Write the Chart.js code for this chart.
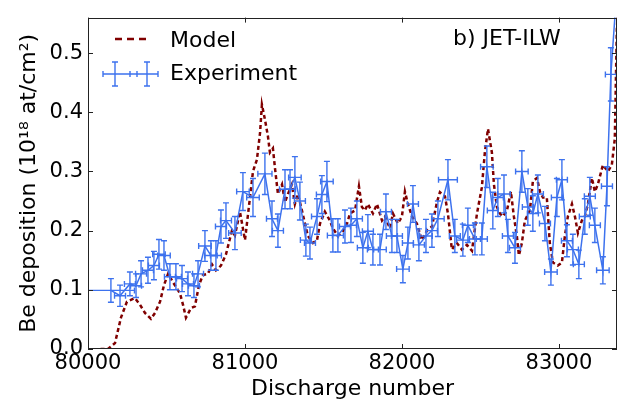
<!DOCTYPE html>
<html><head><meta charset="utf-8">
<script src="https://cdn.jsdelivr.net/npm/chart.js@4.4.0/dist/chart.umd.min.js"></script>
<style>html,body{margin:0;padding:0;background:#fff;} #wrap{width:619px;height:414px;}</style>
</head><body><div id="wrap"><canvas id="c" width="619" height="414"></canvas></div>
<script>
// ---- data ----
const expShot = [80146,80204,80267,80306,80338,80382,80420,80452,80484,80522,80560,80599,80637,80675,80701,80745,80783,80815,80847,80879,80936,80987,81051,81127,81172,81210,81255,81287,81318,81350,81388,81414,81459,81490,81522,81560,81592,81637,81675,81713,81751,81783,81815,81860,81898,81936,81968,82006,82038,82070,82108,82153,82191,82229,82293,82337,82388,82420,82465,82509,82541,82579,82611,82650,82675,82720,82764,82802,82834,82866,82911,82949,82987,83019,83051,83089,83127,83165,83197,83229,83280,83306,83331,83372];
const expValue = [0.099,0.09,0.11,0.107,0.127,0.133,0.141,0.16,0.158,0.122,0.122,0.119,0.11,0.107,0.127,0.174,0.158,0.158,0.207,0.217,0.196,0.266,0.256,0.296,0.22,0.20,0.27,0.27,0.29,0.25,0.184,0.179,0.224,0.261,0.283,0.192,0.192,0.207,0.209,0.22,0.171,0.199,0.168,0.168,0.232,0.191,0.191,0.135,0.179,0.245,0.176,0.191,0.20,0.22,0.286,0.191,0.184,0.209,0.186,0.186,0.308,0.234,0.256,0.262,0.191,0.171,0.30,0.24,0.229,0.262,0.212,0.13,0.256,0.286,0.183,0.168,0.143,0.224,0.258,0.209,0.133,0.275,0.464,0.62];
const expYErr = [0.02,0.018,0.02,0.02,0.022,0.022,0.024,0.025,0.025,0.022,0.022,0.022,0.02,0.02,0.022,0.026,0.025,0.025,0.028,0.03,0.028,0.032,0.032,0.035,0.03,0.028,0.033,0.033,0.035,0.032,0.027,0.027,0.03,0.032,0.034,0.028,0.028,0.028,0.029,0.03,0.026,0.028,0.026,0.026,0.03,0.028,0.028,0.023,0.027,0.031,0.027,0.028,0.028,0.03,0.034,0.028,0.027,0.029,0.027,0.027,0.035,0.031,0.032,0.032,0.028,0.026,0.035,0.031,0.03,0.032,0.029,0.022,0.032,0.034,0.027,0.026,0.024,0.03,0.032,0.029,0.023,0.033,0.045,0.05];
const expXErr = [150,35,35,35,35,35,35,40,40,35,35,35,35,35,35,40,40,35,35,35,40,40,40,45,35,35,35,35,40,35,35,35,35,35,40,35,35,35,35,35,35,35,35,40,35,35,35,40,35,35,35,40,35,40,60,35,40,35,35,35,40,35,35,40,35,35,40,35,35,35,35,40,35,35,35,35,35,35,35,35,40,35,35,35];
const modelShot = [80080,80127,80172,80210,80248,80299,80331,80363,80401,80427,80459,80484,80510,80541,80560,80586,80605,80624,80656,80681,80707,80732,80764,80790,80815,80847,80879,80917,80936,80968,81000,81032,81051,81076,81096,81108,81127,81146,81159,81178,81191,81210,81236,81255,81274,81299,81318,81337,81363,81382,81401,81433,81459,81478,81509,81541,81560,81592,81624,81650,81669,81701,81726,81745,81764,81783,81815,81841,81873,81892,81923,81943,81974,82000,82019,82038,82064,82095,82127,82159,82191,82223,82242,82274,82293,82318,82350,82382,82414,82446,82478,82509,82528,82548,82573,82586,82605,82624,82643,82669,82694,82713,82732,82745,82764,82783,82815,82834,82860,82879,82898,82923,82942,82962,82993,83019,83038,83057,83083,83102,83121,83146,83165,83185,83210,83229,83248,83280,83312,83337,83356,83369,83385];
const modelValue = [0.0,0.0,0.01,0.053,0.08,0.086,0.075,0.061,0.051,0.061,0.08,0.108,0.127,0.113,0.105,0.094,0.075,0.053,0.069,0.072,0.108,0.125,0.127,0.143,0.133,0.141,0.16,0.2,0.192,0.232,0.184,0.256,0.30,0.32,0.365,0.413,0.388,0.36,0.332,0.339,0.306,0.262,0.278,0.248,0.262,0.278,0.245,0.262,0.234,0.212,0.191,0.179,0.184,0.212,0.232,0.217,0.204,0.191,0.199,0.212,0.229,0.234,0.275,0.24,0.234,0.245,0.229,0.245,0.217,0.224,0.204,0.229,0.212,0.224,0.266,0.245,0.224,0.212,0.184,0.2,0.207,0.248,0.265,0.258,0.229,0.168,0.179,0.168,0.176,0.166,0.229,0.273,0.332,0.372,0.332,0.278,0.24,0.229,0.224,0.234,0.266,0.224,0.191,0.158,0.179,0.217,0.234,0.283,0.289,0.266,0.256,0.256,0.179,0.146,0.141,0.146,0.191,0.224,0.245,0.224,0.196,0.217,0.224,0.245,0.289,0.266,0.278,0.311,0.30,0.311,0.355,0.54,0.62];
const xTickValues = [80000,81000,82000,83000];
const yTickValues = [0.0,0.1,0.2,0.3,0.4,0.5];
const xRange = [80000,83370];
const yRange = [0,0.56];
const seriesNames = ['Model','Experiment'];
const panelLabel = 'b) JET-ILW';
const xTitle = 'Discharge number';
const yTitle = 'Be deposition (10\u00b9\u2078 at/cm\u00b2)';

// ---- styles ----
const MODEL_COLOR = '#800000';
const EXP_COLOR = '#3d72ee';
const FONT = 'DejaVu Sans';

const errorBarPlugin = {
  id: 'errorbars',
  afterDatasetsDraw(chart) {
    const {ctx, chartArea: a, scales: {x, y}} = chart;
    ctx.save();
    ctx.beginPath(); ctx.rect(a.left, a.top, a.right - a.left, a.bottom - a.top); ctx.clip();
    ctx.strokeStyle = EXP_COLOR; ctx.lineWidth = 1.4;
    const cap = 3;
    for (let i = 0; i < expShot.length; i++) {
      const px = x.getPixelForValue(expShot[i]), py = y.getPixelForValue(expValue[i]);
      const y1 = y.getPixelForValue(expValue[i] - expYErr[i]), y2 = y.getPixelForValue(expValue[i] + expYErr[i]);
      const x1 = x.getPixelForValue(expShot[i] - expXErr[i]), x2 = x.getPixelForValue(expShot[i] + expXErr[i]);
      ctx.beginPath();
      ctx.moveTo(px, y1); ctx.lineTo(px, y2);
      ctx.moveTo(px - cap, y1); ctx.lineTo(px + cap, y1);
      ctx.moveTo(px - cap, y2); ctx.lineTo(px + cap, y2);
      ctx.moveTo(x1, py); ctx.lineTo(x2, py);
      ctx.moveTo(x1, py - cap); ctx.lineTo(x1, py + cap);
      ctx.moveTo(x2, py - cap); ctx.lineTo(x2, py + cap);
      ctx.stroke();
    }
    ctx.restore();
  }
};

const framePlugin = {
  id: 'frame',
  afterDraw(chart) {
    const {ctx, chartArea: a, scales: {x, y}} = chart;
    ctx.save();
    ctx.strokeStyle = '#222'; ctx.lineWidth = 1;
    ctx.strokeRect(Math.round(a.left) + 0.5, Math.round(a.top) + 0.5, Math.round(a.right - a.left) - 1, Math.round(a.bottom - a.top) - 1);
    const tl = 5;
    ctx.beginPath();
    xTickValues.forEach(v => {
      const px = Math.round(x.getPixelForValue(v)) + 0.5;
      ctx.moveTo(px, a.bottom); ctx.lineTo(px, a.bottom - tl);
      ctx.moveTo(px, a.top); ctx.lineTo(px, a.top + tl);
    });
    yTickValues.forEach(v => {
      const py = Math.round(y.getPixelForValue(v)) + 0.5;
      ctx.moveTo(a.left, py); ctx.lineTo(a.left + tl, py);
      ctx.moveTo(a.right, py); ctx.lineTo(a.right - tl, py);
    });
    ctx.stroke();

    // legend
    ctx.font = '22px "' + FONT + '"';
    ctx.fillStyle = '#000';
    ctx.textBaseline = 'middle';
    ctx.textAlign = 'left';
    ctx.strokeStyle = MODEL_COLOR; ctx.lineWidth = 2.5; ctx.setLineDash([7, 5]);
    ctx.beginPath(); ctx.moveTo(115, 39); ctx.lineTo(146, 39); ctx.stroke();
    ctx.setLineDash([]);
    ctx.fillText(seriesNames[0], 170, 41);
    ctx.strokeStyle = EXP_COLOR; ctx.lineWidth = 1.4;
    ctx.beginPath();
    ctx.moveTo(103, 74); ctx.lineTo(158, 74);
    [115, 147].forEach(hx => {
      ctx.moveTo(hx, 62); ctx.lineTo(hx, 86);
      ctx.moveTo(hx - 3, 62); ctx.lineTo(hx + 3, 62);
      ctx.moveTo(hx - 3, 86); ctx.lineTo(hx + 3, 86);
    });
    [103, 130, 137, 158].forEach(cx => { ctx.moveTo(cx, 71); ctx.lineTo(cx, 77); });
    ctx.stroke();
    ctx.fillText(seriesNames[1], 170, 74);
    ctx.fillText(panelLabel, 453, 39);
    ctx.restore();
  }
};

new Chart(document.getElementById('c'), {
  type: 'scatter',
  data: {
    datasets: [
      { label: seriesNames[0], data: modelShot.map((s, i) => ({x: s, y: modelValue[i]})),
        showLine: true, borderColor: MODEL_COLOR, borderWidth: 2.5, borderDash: [4, 3],
        pointRadius: 0, tension: 0, clip: 0, order: 2 },
      { label: seriesNames[1], data: expShot.map((s, i) => ({x: s, y: expValue[i]})),
        showLine: true, borderColor: EXP_COLOR, borderWidth: 1.5,
        pointRadius: 0, tension: 0, clip: 0, order: 1 }
    ]
  },
  options: {
    responsive: false, animation: false, devicePixelRatio: 1,
    layout: { padding: { top: 9, right: 2, left: 0, bottom: 0 } },
    plugins: { legend: { display: false }, tooltip: { enabled: false } },
    scales: {
      x: {
        type: 'linear', min: xRange[0], max: xRange[1],
        grid: { display: false, drawTicks: false }, border: { display: false },
        afterBuildTicks: s => { s.ticks = xTickValues.map(v => ({value: v})); },
        afterFit: s => { s.height = 65; },
        ticks: { color: '#000', padding: 2, font: { family: FONT, size: 21 }, maxRotation: 0, autoSkip: false,
          callback: v => String(v) },
        title: { display: true, text: xTitle, color: '#000', font: { family: FONT, size: 22 }, padding: { top: 0, bottom: 12 } }
      },
      y: {
        type: 'linear', min: yRange[0], max: yRange[1],
        grid: { display: false, drawTicks: false }, border: { display: false },
        afterBuildTicks: s => { s.ticks = yTickValues.map(v => ({value: v})); },
        afterFit: s => { s.width = 88; },
        ticks: { color: '#000', padding: 5, font: { family: FONT, size: 21 }, autoSkip: false,
          callback: v => Number(v).toFixed(1) },
        title: { display: true, text: yTitle, color: '#000', font: { family: FONT, size: 22 }, padding: { top: 16, bottom: 0 } }
      }
    }
  },
  plugins: [errorBarPlugin, framePlugin]
});
</script></body></html>
